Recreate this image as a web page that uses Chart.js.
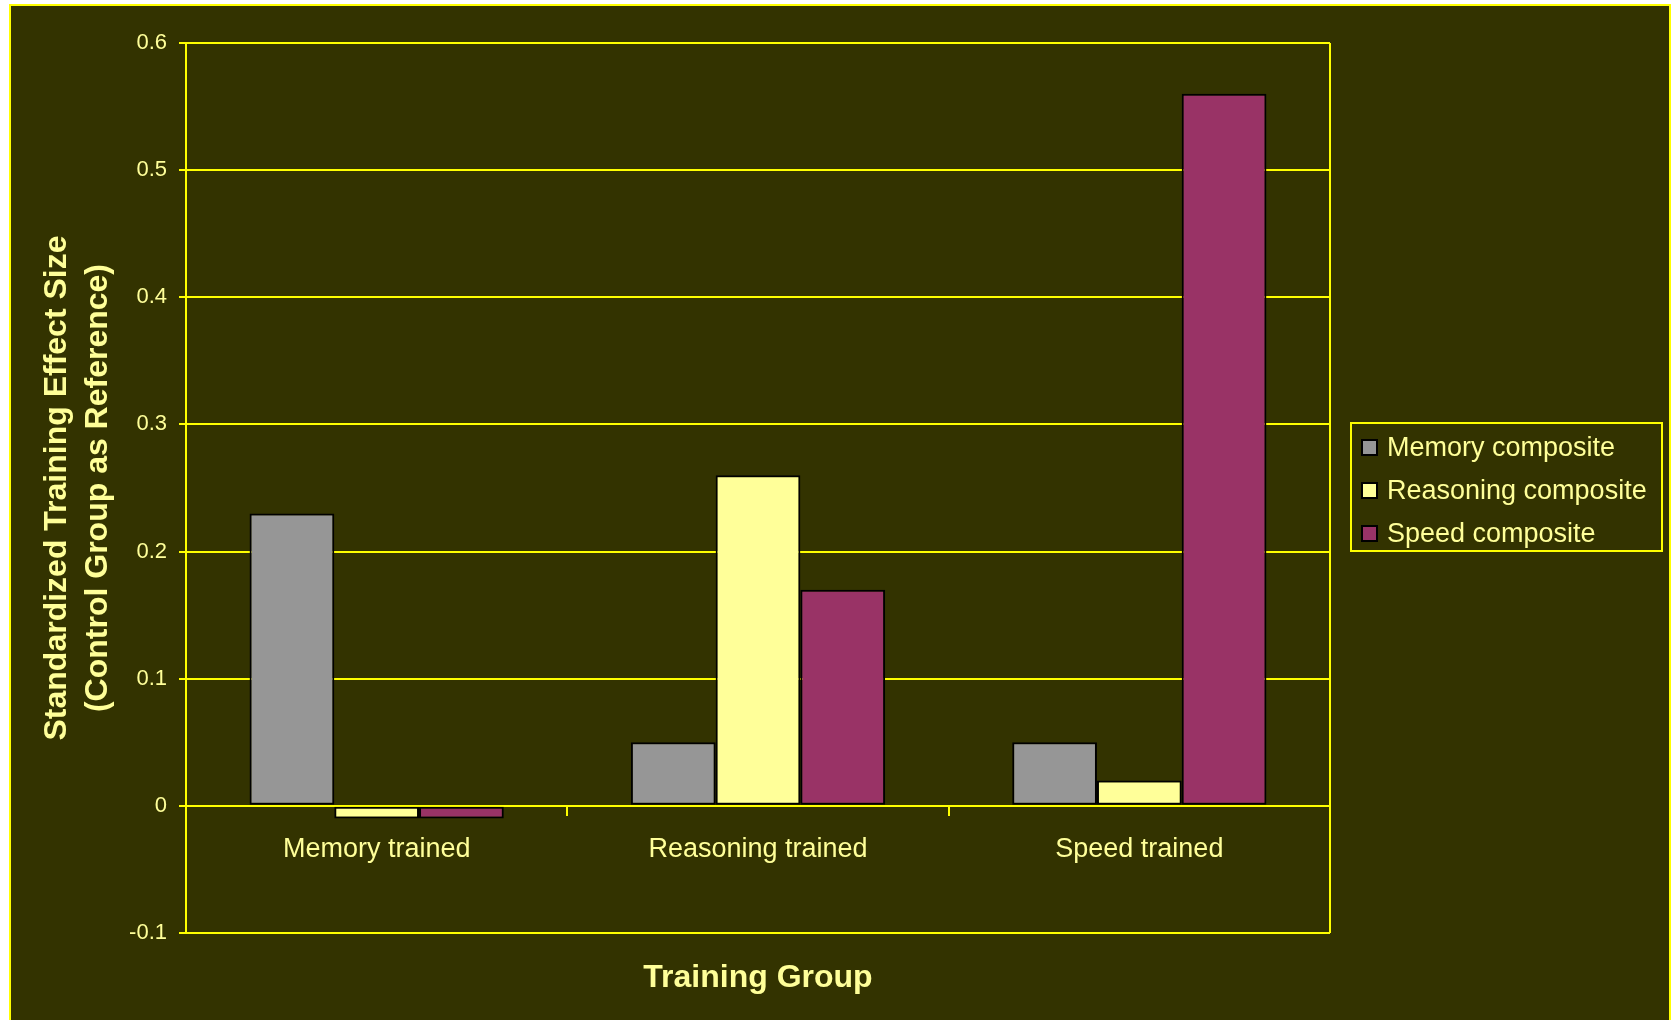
<!DOCTYPE html>
<html>
<head>
<meta charset="utf-8">
<style>
  html, body { margin: 0; padding: 0; background: #ffffff; }
  #chart { display: block; }
</style>
<script src="https://cdn.jsdelivr.net/npm/chart.js@4/dist/chart.umd.min.js"></script>
</head>
<body>
<canvas id="chart" width="1672" height="1020"></canvas>
<script>
const categories = ['Memory trained', 'Reasoning trained', 'Speed trained'];
const seriesNames = ['Memory composite', 'Reasoning composite', 'Speed composite'];
const memoryComposite = [0.23, 0.05, 0.05];
const reasoningComposite = [-0.01, 0.26, 0.02];
const speedComposite = [-0.01, 0.17, 0.56];
const yTickValues = [-0.1, 0, 0.1, 0.2, 0.3, 0.4, 0.5, 0.6];

const BG = '#333300';
const LINE = '#ffff00';
const TEXT = '#ffff99';
const FONT = "'Liberation Sans', Arial, sans-serif";
const seriesColors = ['#969696', '#ffff99', '#993366'];

// outer panel with yellow frame
const panel = {
    id: 'panel',
    beforeDraw(chart) {
        const ctx = chart.ctx;
        ctx.save();
        ctx.fillStyle = '#ffffff';
        ctx.fillRect(0, 0, chart.width, chart.height);
        ctx.fillStyle = BG;
        ctx.fillRect(10, 5, 1660, 1030);
        ctx.strokeStyle = LINE;
        ctx.lineWidth = 2;
        ctx.strokeRect(10, 5, 1660, 1030);
        ctx.restore();
    },
    afterDraw(chart) {
        const {ctx, chartArea} = chart;
        ctx.save();
        // right edge of the plot frame
        ctx.strokeStyle = LINE;
        ctx.lineWidth = 2;
        ctx.beginPath();
        ctx.moveTo(chartArea.right, chartArea.top);
        ctx.lineTo(chartArea.right, chartArea.bottom);
        ctx.stroke();

        // boxed legend
        ctx.strokeRect(1351, 423, 311, 128);
        ctx.font = '27px ' + FONT;
        ctx.textBaseline = 'middle';
        ctx.textAlign = 'left';
        chart.data.datasets.forEach((ds, i) => {
            const y = 447 + i * 43;
            ctx.fillStyle = ds.backgroundColor;
            ctx.fillRect(1362, y - 7, 15, 15);
            ctx.strokeStyle = '#000000';
            ctx.lineWidth = 2;
            ctx.strokeRect(1362, y - 7, 15, 15);
            ctx.fillStyle = TEXT;
            ctx.fillText(ds.label, 1387, y + 2);
        });
        ctx.restore();
    }
};

const makeDataset = (label, data, color) => ({
    label: label,
    data: data,
    backgroundColor: color,
    borderColor: '#000000',
    borderWidth: 2,
    borderSkipped: false,
    xAxisID: 'x',
    yAxisID: 'y',
    categoryPercentage: 3 / 4.5,
    barPercentage: 1,
});

new Chart(document.getElementById('chart'), {
    type: 'bar',
    data: {
        labels: categories,
        datasets: [
            makeDataset(seriesNames[0], memoryComposite, seriesColors[0]),
            makeDataset(seriesNames[1], reasoningComposite, seriesColors[1]),
            makeDataset(seriesNames[2], speedComposite, seriesColors[2]),
        ],
    },
    options: {
        responsive: false,
        animation: false,
        devicePixelRatio: 1,
        layout: {
            padding: { left: 0, top: 43, right: 342, bottom: 0 },
        },
        plugins: {
            legend: { display: false },
            tooltip: { enabled: false },
        },
        scales: {
            x: {
                type: 'category',
                position: { y: 0 },
                offset: true,
                z: 1,
                grid: {
                    offset: true,
                    drawOnChartArea: false,
                    drawTicks: true,
                    tickLength: 9,
                    color: LINE,
                    lineWidth: 2,
                },
                border: { display: true, color: LINE, width: 2 },
                ticks: {
                    color: TEXT,
                    padding: 18,
                    font: { family: FONT, size: 27 },
                    maxRotation: 0,
                },
                afterFit(scale) {
                    scale.paddingLeft = 0;
                    scale.paddingRight = 0;
                },
            },
            x2: {
                type: 'category',
                position: 'bottom',
                labels: categories,
                grid: { display: false },
                border: { display: false },
                ticks: { display: false },
                title: {
                    display: true,
                    text: 'Training Group',
                    color: TEXT,
                    font: { family: FONT, size: 32, weight: 'bold' },
                    padding: { top: 0, bottom: 23 },
                },
                afterFit(scale) {
                    scale.height = 87;
                    scale.paddingLeft = 0;
                    scale.paddingRight = 0;
                },
            },
            y: {
                type: 'linear',
                position: 'left',
                min: yTickValues[0],
                max: yTickValues[yTickValues.length - 1],
                afterBuildTicks(scale) {
                    scale.ticks = yTickValues.map(v => ({ value: v }));
                },
                grid: {
                    color: LINE,
                    lineWidth: 2,
                    drawTicks: true,
                    tickLength: 7,
                },
                border: { display: true, color: LINE, width: 2 },
                ticks: {
                    color: TEXT,
                    padding: 12,
                    font: { family: FONT, size: 22 },
                    callback: (v) => String(Math.round(v * 10) / 10),
                },
                title: {
                    display: true,
                    text: ['Standardized Training Effect Size', '(Control Group as Reference)'],
                    color: TEXT,
                    font: { family: FONT, size: 32, weight: 'bold', lineHeight: 1.3 },
                    padding: { top: 36, bottom: 0 },
                },
                afterFit(scale) {
                    scale.width = 186;
                    scale.paddingTop = 0;
                    scale.paddingBottom = 0;
                },
            },
        },
    },
    plugins: [panel],
});
</script>
</body>
</html>
